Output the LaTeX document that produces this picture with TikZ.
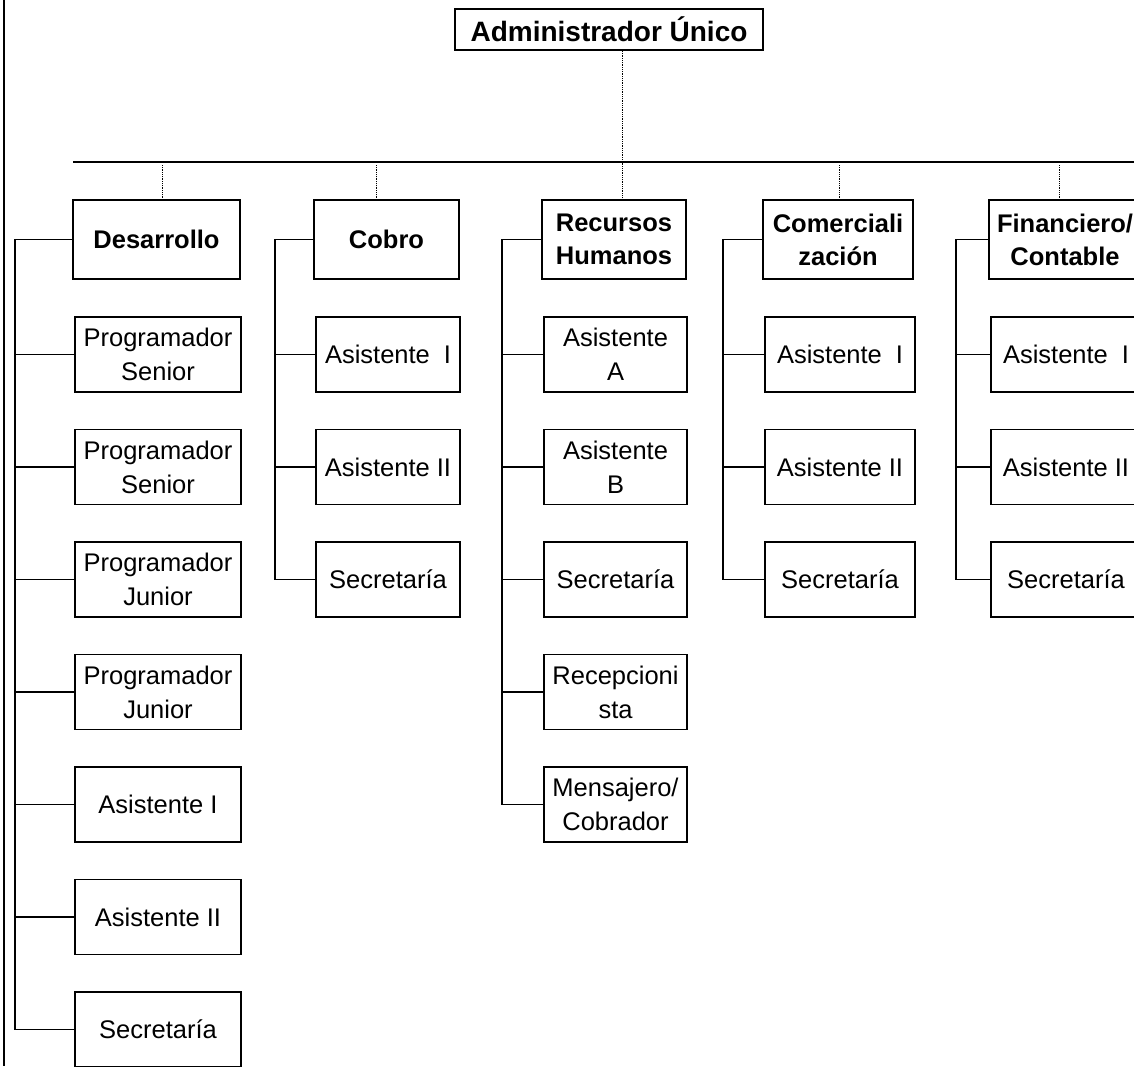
\documentclass[tikz,border=0pt]{standalone}
\usepackage{fontspec}
\setmainfont{Liberation Sans}
\begin{document}
\begin{tikzpicture}[x=1pt,y=-1pt,
  every node/.style={inner sep=0pt, align=center},
  headbox/.style={draw, line width=2pt, minimum height=41pt, minimum width=308pt,
    font=\fontsize{28}{34}\selectfont\bfseries},
  deptbox/.style={draw, line width=2pt, minimum height=79pt,
    font=\fontsize{25.5}{33}\selectfont\bfseries},
  rolebox/.style={draw, line width=1.2pt, minimum height=75pt,
    font=\fontsize{25.5}{34}\selectfont},
  conn/.style={line width=1.2pt},
  dotline/.style={line width=0.8pt, densely dotted}]
\useasboundingbox (0,0) rectangle (1134,1066);
\clip (0,0) rectangle (1134,1066);

% page margin rule
\draw[conn] (4,0) -- (4,1066);

% head of the organisation
\node[headbox] (admin) at (609,29.5) {Administrador Único};

% departments
\node[deptbox, minimum width=167pt] (dev) at (156.5,239.5) {Desarrollo};
\node[deptbox, minimum width=145pt] (cob) at (386.5,239.5) {Cobro};
\node[deptbox, minimum width=144pt] (rh)  at (614,239.5) {Recursos\\Humanos};
\node[deptbox, minimum width=150pt] (com) at (838,239.5) {Comerciali\\zación};
\node[deptbox, minimum width=152pt] (fin) at (1065,239.5) {Financiero/\\Contable};

% horizontal bus under the head
\coordinate (busL) at (73,162);
\coordinate (busR) at (1134,162);
\draw[conn] (busL) -- (busR);

% dotted links from the bus to each department
\draw[dotline] ([xshift=13pt]admin.south) -- ([xshift=13pt]admin.south |- rh.north);
\draw[dotline] (162,165) -- (162,0 |- dev.north);
\draw[dotline] (376,165) -- (376,0 |- cob.north);
\draw[dotline] (839,165) -- (839,0 |- com.north);
\draw[dotline] (1059,165) -- (1059,0 |- fin.north);

% staff of each department
\foreach \i/\t in {1/{Programador\\Senior},2/{Programador\\Senior},
                   3/{Programador\\Junior},4/{Programador\\Junior},
                   5/{Asistente I},6/{Asistente II},7/{Secretaría}}
  \node[rolebox, minimum width=166pt] (dev\i) at (158,{354.5+112.5*(\i-1)}) {\t};

\foreach \i/\t in {1/{Asistente\hspace{0.55em}I},2/{Asistente II},3/{Secretaría}}
  \node[rolebox, minimum width=144pt] (cob\i) at (388,{354.5+112.5*(\i-1)}) {\t};

\foreach \i/\t in {1/{Asistente\\A},2/{Asistente\\B},3/{Secretaría},
                   4/{Recepcioni\\sta},5/{Mensajero/\\Cobrador}}
  \node[rolebox, minimum width=143pt] (rh\i) at (615.5,{354.5+112.5*(\i-1)}) {\t};

\foreach \i/\t in {1/{Asistente\hspace{0.55em}I},2/{Asistente II},3/{Secretaría}}
  \node[rolebox, minimum width=150pt] (com\i) at (840,{354.5+112.5*(\i-1)}) {\t};

\foreach \i/\t in {1/{Asistente\hspace{0.55em}I},2/{Asistente II},3/{Secretaría}}
  \node[rolebox, minimum width=150pt] (fin\i) at (1066,{354.5+112.5*(\i-1)}) {\t};

% side trunks joining each department to its staff
\coordinate (devv) at (15,239.5);
\coordinate (cobv) at (275,239.5);
\coordinate (rhv)  at (502,239.5);
\coordinate (comv) at (723,239.5);
\coordinate (finv) at (956,239.5);

\draw[conn] (dev.west) -- (devv) |- (dev7.west);
\foreach \i in {1,...,6} \draw[conn] (devv |- dev\i.west) -- (dev\i.west);

\draw[conn] (cob.west) -- (cobv) |- (cob3.west);
\foreach \i in {1,2} \draw[conn] (cobv |- cob\i.west) -- (cob\i.west);

\draw[conn] (rh.west) -- (rhv) |- (rh5.west);
\foreach \i in {1,...,4} \draw[conn] (rhv |- rh\i.west) -- (rh\i.west);

\draw[conn] (com.west) -- (comv) |- (com3.west);
\foreach \i in {1,2} \draw[conn] (comv |- com\i.west) -- (com\i.west);

\draw[conn] (fin.west) -- (finv) |- (fin3.west);
\foreach \i in {1,2} \draw[conn] (finv |- fin\i.west) -- (fin\i.west);
\end{tikzpicture}
\end{document}
